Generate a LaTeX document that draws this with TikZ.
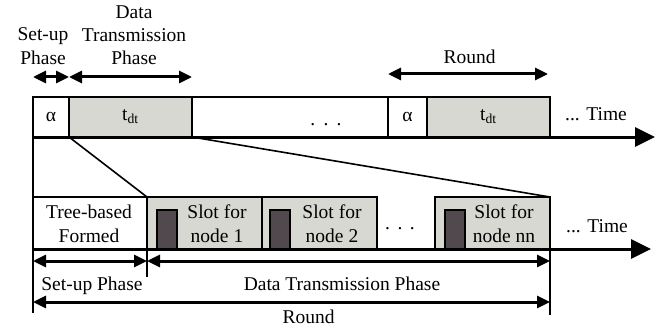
\documentclass[tikz,border=0pt]{standalone}
\usepackage{fontspec}
\setmainfont{Liberation Serif}
\usetikzlibrary{arrows.meta,calc}
\definecolor{cellgray}{RGB}{216,216,210}
\definecolor{slotdark}{RGB}{82,73,79}
\newcommand{\fsz}{\fontsize{19.5}{24}\selectfont}
\begin{document}
\begin{tikzpicture}[x=1pt,y=-1pt,
  cell/.style={draw=black, line width=2.6pt, inner sep=0pt, outer sep=0pt, anchor=north west, font=\fsz},
  topcell/.style={cell, minimum height=40pt},
  botcell/.style={cell, minimum height=52pt},
  grayfill/.style={fill=cellgray},
  darkbar/.style={draw=black, line width=1.8pt, fill=slotdark, inner sep=0pt, outer sep=0pt, anchor=south west, minimum width=20pt, minimum height=39pt},
  lbl/.style={font=\fsz, align=center, inner sep=0pt},
  axis/.style={line width=3pt, -{Triangle[length=20pt,width=19pt]}},
  dim/.style={line width=3pt, {Triangle[length=13pt,width=12pt]}-{Triangle[length=13pt,width=12pt]}},
  zoomline/.style={line width=1.6pt},
  tick/.style={line width=2pt}
]
\useasboundingbox (0,0) rectangle (671,326);

% top time line
\node[topcell, minimum width=36pt] (a1) at (33,97) {α};
\node[topcell, grayfill, minimum width=123pt] (t1) at (69,97) {t\textsubscript{dt}};
\node[topcell, minimum width=196pt] (mid) at (192,97) {};
\node[topcell, minimum width=39pt] (a2) at (388,97) {α};
\node[topcell, grayfill, minimum width=123pt] (t2) at (427,97) {t\textsubscript{dt}};
\node[lbl, anchor=base] (tdots) at (326,125) {.\hspace{8.2pt}.\hspace{8.2pt}.};
\coordinate (topend) at (655,137);
\draw[axis] (a1.south west) -- (topend);
\node[lbl] (ttime) at (596,114) {... Time};

% top labels and arrows
\coordinate (su1) at ($(a1.north west)+(0,-20)$);
\coordinate (su2) at ($(a1.north east)+(0,-20)$);
\coordinate (dt2) at ($(t1.north east)+(0,-20)$);
\coordinate (rd1) at ($(a2.north west)+(0,-23)$);
\coordinate (rd2) at ($(t2.north east)+(-2,-23)$);
\draw[dim] (su1) -- (su2);
\draw[dim] (su2) -- (dt2);
\draw[dim] (rd1) -- (rd2);
\node[lbl, anchor=south] (sulbl) at (43,64.5) {Set-up\\Phase};
\node[lbl, anchor=south] (dtlbl) at (134,64.5) {Data\\[-1.5pt]Transmission\\[-1pt]Phase};
\node[lbl, anchor=base] (rdlbl) at (469.5,64) {Round};

% bottom row
\node[botcell, minimum width=114pt] (tree) at (33,197) {};
\node[lbl] (treet) at ($(tree.center)+(-1,1)$) {Tree-based\\Formed};
\node[botcell, grayfill, minimum width=115pt] (s1) at (147,197) {};
\node[botcell, grayfill, minimum width=115pt] (s2) at (262,197) {};
\node[botcell, grayfill, minimum width=115pt] (sn) at (435,197) {};
\node[darkbar] (b1) at (157,249) {};
\node[darkbar] (b2) at (270,249) {};
\node[darkbar] (bn) at (445,249) {};
\node[lbl] (s1t) at ($(s1.center)+(12.5,1)$) {Slot for\\node 1};
\node[lbl] (s2t) at ($(s2.center)+(12.5,1)$) {Slot for\\node 2};
\node[lbl] (snt) at ($(sn.center)+(11.5,1)$) {Slot for\\node nn};
\node[lbl, anchor=base] (bdots) at (400,229) {.\hspace{7.5pt}.\hspace{7.5pt}.};
\coordinate (botend) at (651,249);
\draw[axis] (tree.south west) -- (botend);
\node[lbl] (btime) at (597,226) {... Time};

% zoom lines
\draw[zoomline] (t1.south west) -- (s1.north west);
\draw[zoomline] (t1.south east) -- (sn.north east);

% vertical ticks
\coordinate (vl) at (33,313);
\coordinate (vm) at (147,277);
\coordinate (vr) at (550,315);
\draw[tick] (a1.south west) -- (vl);
\draw[tick] (s1.south west) -- (vm);
\draw[tick] (sn.south east) -- (vr);

% bottom dimension arrows
\coordinate (bs1) at (33,261);
\coordinate (bs2) at (147,261);
\coordinate (bs3) at (550,261);
\coordinate (br1) at (33,302);
\coordinate (br2) at (550,302);
\draw[dim] (bs1) -- (bs2);
\draw[dim] (bs2) -- (bs3);
\draw[dim] (br1) -- (br2);
\node[lbl, anchor=base] (bsul) at (92,290) {Set-up Phase};
\node[lbl, anchor=base] (bdtl) at (342,290) {Data Transmission Phase};
\node[lbl, anchor=base] (brl) at (308.5,323) {Round};
\end{tikzpicture}
\end{document}
